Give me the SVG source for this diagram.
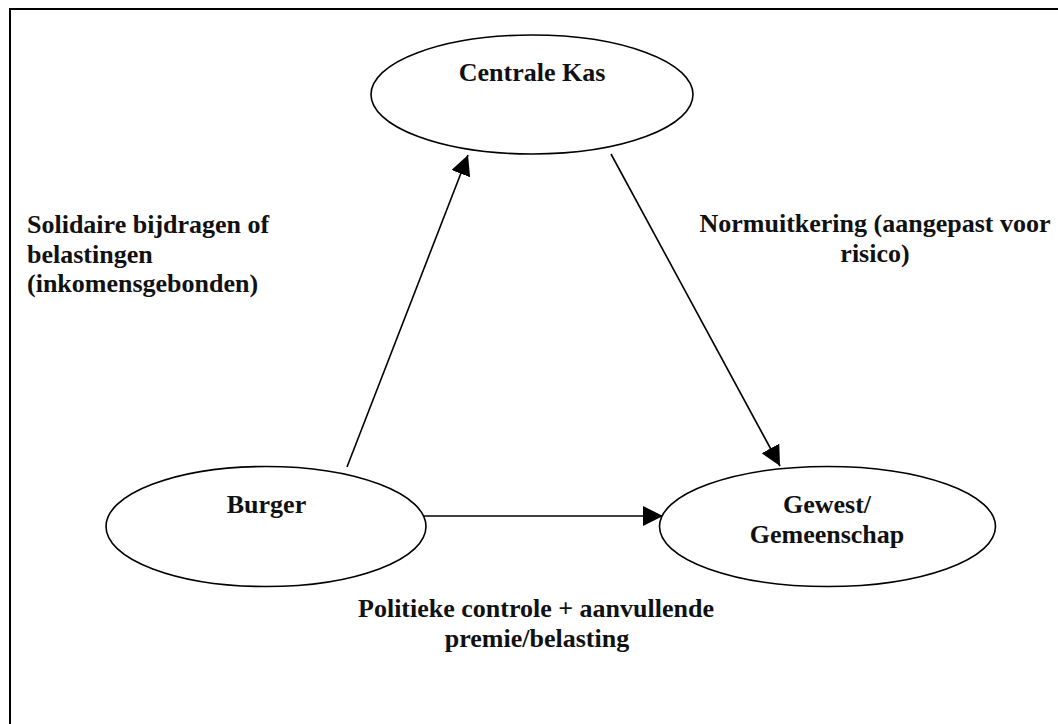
<svg xmlns="http://www.w3.org/2000/svg" width="1058" height="724" viewBox="0 0 1058 724">
  <style>
    .node { fill: #ffffff; stroke: #000000; stroke-width: 1.6; }
    .lbl { font-family: "Liberation Serif", "Times New Roman", serif; font-weight: bold; font-size: 26px; fill: #111111; }
    .mid { text-anchor: middle; }
    .edge { stroke: #000000; stroke-width: 1.6; fill: none; marker-end: url(#arrow); }
  </style>
  <defs>
    <marker id="arrow" markerUnits="userSpaceOnUse" markerWidth="20" markerHeight="20" refX="20" refY="10" orient="auto" viewBox="0 0 20 20">
      <path d="M0,0 L20,10 L0,20 z" fill="#000000"/>
    </marker>
  </defs>
  <rect x="0" y="0" width="1058" height="724" fill="#ffffff"/>
  <path d="M10,724 L10,9 L1058,9" fill="none" stroke="#000000" stroke-width="2"/>

  <g id="connectors">
    <line class="edge" x1="347" y1="467" x2="468" y2="155"/>
    <line class="edge" x1="611" y1="154" x2="780" y2="466"/>
    <line class="edge" x1="418" y1="516" x2="663" y2="516"/>
  </g>

  <g id="centrale-kas">
    <ellipse class="node" cx="532" cy="94.5" rx="161" ry="59.5"/>
    <text class="lbl mid" x="532" y="81">Centrale Kas</text>
  </g>

  <g id="burger">
    <ellipse class="node" cx="266" cy="526.5" rx="160" ry="60"/>
    <text class="lbl mid" x="266.5" y="513">Burger</text>
  </g>

  <g id="gewest">
    <ellipse class="node" cx="827.5" cy="526.5" rx="168" ry="60"/>
    <text class="lbl mid" x="827" y="513">Gewest/</text>
    <text class="lbl mid" x="827" y="543">Gemeenschap</text>
  </g>

  <g id="labels">
    <text class="lbl" x="27" y="233">Solidaire bijdragen of</text>
    <text class="lbl" x="27" y="263">belastingen</text>
    <text class="lbl" x="27" y="292">(inkomensgebonden)</text>
    <text class="lbl mid" x="875" y="232">Normuitkering (aangepast voor</text>
    <text class="lbl mid" x="875" y="262">risico)</text>
    <text class="lbl mid" x="536" y="617">Politieke controle + aanvullende</text>
    <text class="lbl mid" x="537" y="647">premie/belasting</text>
  </g>
</svg>
